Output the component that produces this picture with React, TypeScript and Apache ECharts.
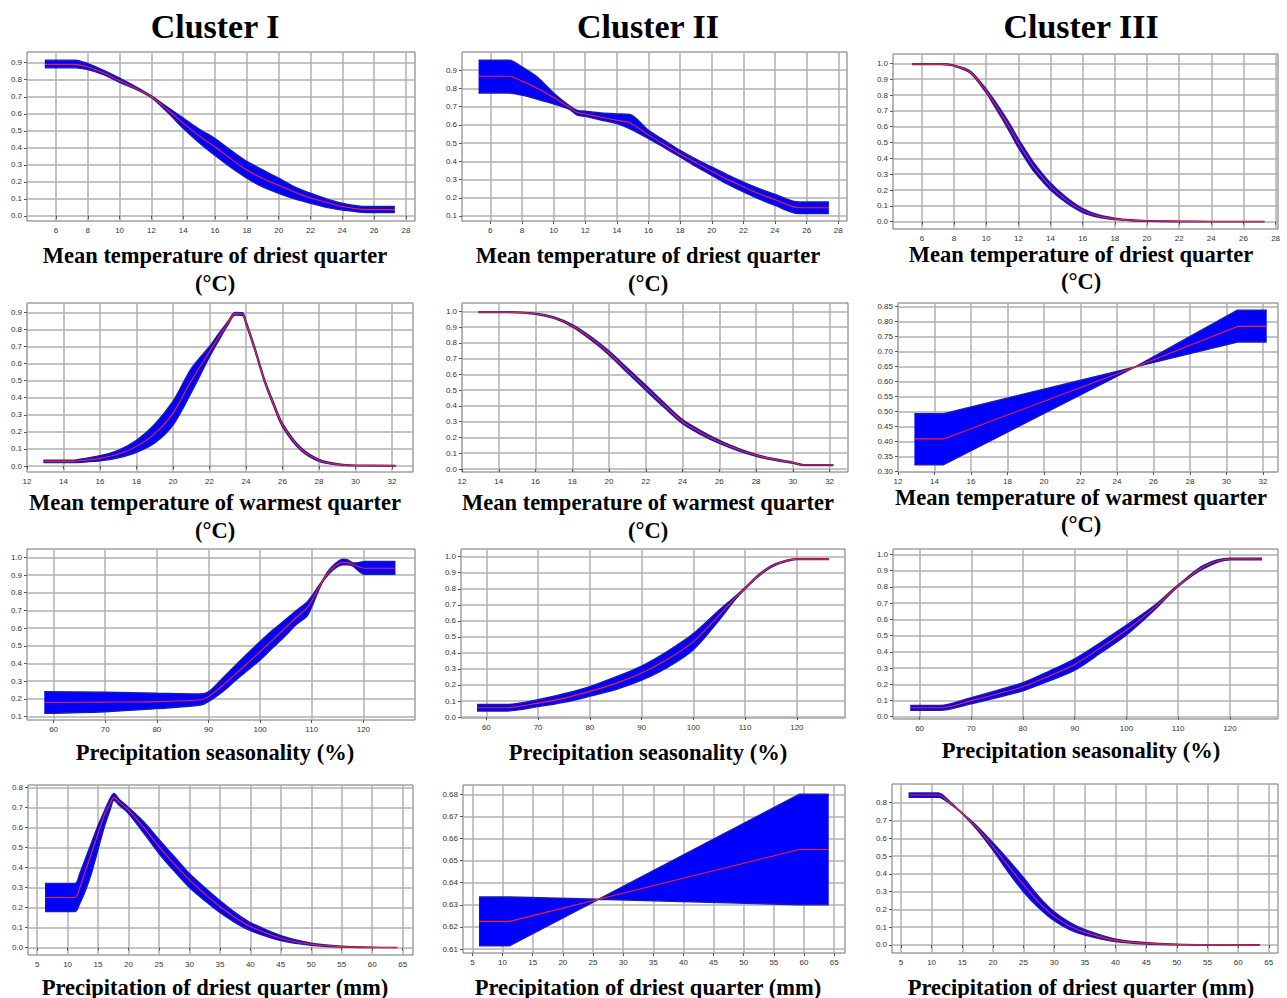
import React, { useEffect, useRef } from "react";
import * as echarts from "echarts";

// ---------- tick labels ----------
const xTicksTemp = [6, 8, 10, 12, 14, 16, 18, 20, 22, 24, 26, 28];
const xTicksWarm = [12, 14, 16, 18, 20, 22, 24, 26, 28, 30, 32];
const xTicksSeas = [60, 70, 80, 90, 100, 110, 120];
const xTicksPrec = [5, 10, 15, 20, 25, 30, 35, 40, 45, 50, 55, 60, 65];
const yTicks0to9 = [0, 0.1, 0.2, 0.3, 0.4, 0.5, 0.6, 0.7, 0.8, 0.9];
const yTicks1to9 = [0.1, 0.2, 0.3, 0.4, 0.5, 0.6, 0.7, 0.8, 0.9];
const yTicks0to10 = [0, 0.1, 0.2, 0.3, 0.4, 0.5, 0.6, 0.7, 0.8, 0.9, 1.0];
const yTicks1to10 = [0.1, 0.2, 0.3, 0.4, 0.5, 0.6, 0.7, 0.8, 0.9, 1.0];
const yTicks0to8 = [0, 0.1, 0.2, 0.3, 0.4, 0.5, 0.6, 0.7, 0.8];
const yTicks30to85 = [0.3, 0.35, 0.4, 0.45, 0.5, 0.55, 0.6, 0.65, 0.7, 0.75, 0.8, 0.85];
const yTicks61to68 = [0.61, 0.62, 0.63, 0.64, 0.65, 0.66, 0.67, 0.68];

// ---------- titles ----------
const clusterTitles = ["Cluster I", "Cluster II", "Cluster III"];
const varDry = ["Mean temperature of driest quarter", "(°C)"];
const varWarm = ["Mean temperature of warmest quarter", "(°C)"];
const varSeas = ["Precipitation seasonality (%)"];
const varPrec = ["Precipitation of driest quarter (mm)"];

// ---------- Panel 1: Cluster I, mean temp driest quarter ----------
const p1X = [5.3, 7.2, 8, 9, 10, 11, 12, 13, 14, 15, 16, 17, 18, 19, 20, 21, 22, 23, 24, 25.5, 27.3];
const p1Mid = [0.89, 0.89, 0.875, 0.84, 0.795, 0.75, 0.7, 0.625, 0.545, 0.47, 0.405, 0.335, 0.27, 0.22, 0.18, 0.14, 0.105, 0.08, 0.055, 0.037, 0.037];
const p1Lo = [0.87, 0.87, 0.86, 0.83, 0.785, 0.745, 0.695, 0.61, 0.515, 0.43, 0.355, 0.285, 0.222, 0.17, 0.133, 0.1, 0.074, 0.05, 0.035, 0.02, 0.02];
const p1Hi = [0.915, 0.915, 0.895, 0.855, 0.81, 0.76, 0.705, 0.64, 0.575, 0.51, 0.455, 0.385, 0.32, 0.27, 0.222, 0.17, 0.133, 0.1, 0.074, 0.055, 0.055];

// ---------- Panel 2: Cluster II, mean temp driest quarter ----------
const p2X = [5.26, 7.2, 8, 9, 10, 11, 11.5, 12, 13, 14, 14.8, 16, 17, 18, 19, 20, 21, 22, 23, 24, 25.5, 27.4];
const p2Hi = [0.955, 0.955, 0.918, 0.86, 0.775, 0.705, 0.68, 0.675, 0.665, 0.66, 0.657, 0.57, 0.515, 0.46, 0.412, 0.369, 0.326, 0.286, 0.25, 0.219, 0.177, 0.177];
const p2Lo = [0.775, 0.775, 0.763, 0.74, 0.715, 0.685, 0.653, 0.647, 0.627, 0.607, 0.58, 0.525, 0.475, 0.424, 0.372, 0.323, 0.275, 0.232, 0.193, 0.158, 0.113, 0.113];
const p2Mid = [0.867, 0.867, 0.84, 0.8, 0.75, 0.695, 0.668, 0.66, 0.642, 0.625, 0.612, 0.545, 0.492, 0.44, 0.392, 0.345, 0.3, 0.26, 0.222, 0.19, 0.145, 0.145];

// ---------- Panel 3: Cluster III, mean temp driest quarter ----------
const p3X = [5.4, 7.2, 8, 9, 10, 10.5, 11, 11.5, 12, 12.5, 13, 14, 15, 16, 17, 18, 19, 20, 22, 24, 27.3];
const p3Mid = [0.995, 0.995, 0.985, 0.945, 0.825, 0.75, 0.67, 0.585, 0.495, 0.415, 0.34, 0.222, 0.135, 0.07, 0.035, 0.018, 0.009, 0.005, 0.002, 0.001, 0.001];
const p3Lo = [0.993, 0.993, 0.982, 0.939, 0.813, 0.732, 0.648, 0.559, 0.467, 0.387, 0.313, 0.2, 0.118, 0.058, 0.027, 0.013, 0.006, 0.003, 0.0, 0.0, 0.0];
const p3Hi = [0.997, 0.997, 0.988, 0.951, 0.837, 0.768, 0.692, 0.611, 0.523, 0.443, 0.367, 0.244, 0.152, 0.082, 0.043, 0.023, 0.012, 0.007, 0.004, 0.002, 0.002];

// ---------- Panel 4: Cluster I, mean temp warmest quarter ----------
const p4X = [12.9, 14.5, 15, 16, 17, 18, 19, 20, 21, 22, 22.5, 23, 23.4, 23.8, 24, 24.5, 25, 25.5, 26, 27, 28, 29, 30, 32.2];
const p4Mid = [0.027, 0.027, 0.032, 0.045, 0.07, 0.115, 0.19, 0.31, 0.5, 0.67, 0.755, 0.835, 0.893, 0.89, 0.84, 0.68, 0.505, 0.365, 0.24, 0.1, 0.033, 0.01, 0.003, 0.002];
const p4Lo = [0.02, 0.02, 0.022, 0.03, 0.048, 0.08, 0.135, 0.24, 0.43, 0.64, 0.735, 0.825, 0.885, 0.882, 0.83, 0.67, 0.495, 0.355, 0.23, 0.092, 0.027, 0.007, 0.001, 0.0];
const p4Hi = [0.034, 0.034, 0.042, 0.06, 0.092, 0.15, 0.245, 0.38, 0.57, 0.7, 0.775, 0.845, 0.9, 0.898, 0.85, 0.69, 0.515, 0.375, 0.25, 0.108, 0.039, 0.013, 0.005, 0.004];

// ---------- Panel 5: Cluster II, mean temp warmest quarter ----------
const p5X = [12.9, 14.5, 16, 17, 18, 19, 20, 21, 22, 23, 24, 25, 26, 27, 28, 29, 30, 30.6, 32.2];
const p5Mid = [0.995, 0.995, 0.985, 0.96, 0.909, 0.83, 0.736, 0.625, 0.515, 0.405, 0.3, 0.23, 0.172, 0.125, 0.087, 0.06, 0.04, 0.025, 0.025];
const p5Lo = [0.992, 0.992, 0.982, 0.955, 0.902, 0.82, 0.724, 0.61, 0.499, 0.39, 0.287, 0.218, 0.162, 0.117, 0.081, 0.055, 0.036, 0.022, 0.022];
const p5Hi = [0.998, 0.998, 0.988, 0.965, 0.916, 0.84, 0.748, 0.64, 0.531, 0.42, 0.313, 0.242, 0.182, 0.133, 0.093, 0.065, 0.044, 0.028, 0.028];

// ---------- Panel 6: Cluster III, mean temp warmest quarter ----------
const p6X = [12.9, 14.5, 25, 30.6, 32.2];
const p6Hi = [0.492, 0.492, 0.648, 0.837, 0.837];
const p6Lo = [0.322, 0.322, 0.648, 0.731, 0.731];
const p6Mid = [0.408, 0.408, 0.648, 0.783, 0.783];

// ---------- Panel 7: Cluster I, precipitation seasonality ----------
const p7X = [58.2, 70, 80, 88.5, 90, 92.5, 95, 97.5, 100, 102.5, 105, 107, 109, 110, 111, 112, 113, 114, 115, 116, 117, 118, 119, 120.3, 126.2];
const p7Mid = [0.18, 0.182, 0.185, 0.195, 0.213, 0.27, 0.335, 0.4, 0.467, 0.535, 0.605, 0.66, 0.712, 0.755, 0.81, 0.862, 0.905, 0.938, 0.96, 0.972, 0.97, 0.96, 0.948, 0.938, 0.938];
const p7Hi = [0.241, 0.238, 0.232, 0.228, 0.24, 0.31, 0.383, 0.455, 0.524, 0.59, 0.65, 0.7, 0.745, 0.78, 0.825, 0.865, 0.915, 0.95, 0.975, 0.99, 0.985, 0.968, 0.97, 0.976, 0.976];
const p7Lo = [0.119, 0.128, 0.145, 0.166, 0.185, 0.235, 0.298, 0.36, 0.42, 0.49, 0.56, 0.62, 0.665, 0.72, 0.79, 0.855, 0.895, 0.925, 0.948, 0.958, 0.958, 0.95, 0.925, 0.904, 0.904];

// ---------- Panel 8: Cluster II, precipitation seasonality ----------
const p8X = [58.2, 64, 70, 75, 80, 85, 90, 95, 100, 105, 108, 110, 112.5, 115, 117.5, 120, 126.2];
const p8Mid = [0.058, 0.058, 0.087, 0.118, 0.16, 0.21, 0.274, 0.36, 0.47, 0.637, 0.74, 0.803, 0.88, 0.938, 0.97, 0.985, 0.985];
const p8Lo = [0.038, 0.038, 0.065, 0.092, 0.13, 0.172, 0.23, 0.31, 0.42, 0.605, 0.73, 0.798, 0.875, 0.933, 0.966, 0.982, 0.982];
const p8Hi = [0.078, 0.078, 0.108, 0.145, 0.19, 0.25, 0.318, 0.41, 0.52, 0.667, 0.75, 0.808, 0.885, 0.943, 0.974, 0.988, 0.988];

// ---------- Panel 9: Cluster III, precipitation seasonality ----------
const p9X = [58.2, 64, 70, 75, 80, 85, 90, 95, 100, 105, 110, 115, 120, 126.2];
const p9Mid = [0.055, 0.055, 0.099, 0.14, 0.185, 0.25, 0.322, 0.425, 0.534, 0.66, 0.807, 0.924, 0.971, 0.971];
const p9Lo = [0.04, 0.04, 0.08, 0.118, 0.16, 0.22, 0.287, 0.393, 0.504, 0.645, 0.802, 0.914, 0.966, 0.966];
const p9Hi = [0.07, 0.07, 0.118, 0.162, 0.21, 0.28, 0.357, 0.457, 0.564, 0.675, 0.812, 0.934, 0.976, 0.976];

// ---------- Panel 10: Cluster I, precipitation of driest quarter ----------
const p10X = [6.3, 11.2, 12, 13, 14, 15, 16, 17, 17.6, 18.5, 20, 22.5, 25, 27.5, 30, 32.5, 35, 37.5, 40, 45, 50, 55, 60, 64.1];
const p10Mid = [0.25, 0.25, 0.3, 0.39, 0.48, 0.57, 0.66, 0.72, 0.75, 0.725, 0.687, 0.6, 0.504, 0.418, 0.338, 0.268, 0.205, 0.15, 0.105, 0.047, 0.017, 0.005, 0.001, 0.0];
const p10Hi = [0.32, 0.32, 0.37, 0.45, 0.53, 0.61, 0.68, 0.745, 0.77, 0.74, 0.7, 0.628, 0.54, 0.455, 0.37, 0.3, 0.235, 0.175, 0.125, 0.06, 0.022, 0.007, 0.002, 0.001];
const p10Lo = [0.18, 0.18, 0.22, 0.29, 0.38, 0.49, 0.6, 0.69, 0.735, 0.71, 0.67, 0.572, 0.47, 0.382, 0.3, 0.235, 0.175, 0.125, 0.085, 0.035, 0.012, 0.003, 0.0, 0.0];

// ---------- Panel 11: Cluster II, precipitation of driest quarter ----------
const p11X = [6.1, 11.2, 25.9, 59.2, 64.1];
const p11Hi = [0.6335, 0.6335, 0.6325, 0.68, 0.68];
const p11Lo = [0.6115, 0.6115, 0.6325, 0.63, 0.63];
const p11Mid = [0.6225, 0.6225, 0.6325, 0.655, 0.655];

// ---------- Panel 12: Cluster III, precipitation of driest quarter ----------
const p12X = [6.25, 11.1, 13, 15, 17.5, 20, 22.5, 25, 27.5, 30, 32.5, 35, 40, 45, 50, 55, 63.5];
const p12Mid = [0.843, 0.843, 0.8, 0.74, 0.655, 0.553, 0.445, 0.338, 0.24, 0.161, 0.107, 0.071, 0.026, 0.009, 0.003, 0.001, 0.0];
const p12Hi = [0.855, 0.855, 0.805, 0.742, 0.665, 0.575, 0.48, 0.378, 0.272, 0.186, 0.127, 0.086, 0.033, 0.013, 0.005, 0.002, 0.001];
const p12Lo = [0.83, 0.83, 0.795, 0.738, 0.645, 0.533, 0.41, 0.298, 0.208, 0.136, 0.087, 0.056, 0.019, 0.005, 0.001, 0.0, 0.0];

type Panel = {
  x: number[]; lo: number[]; mid: number[]; hi: number[];
  xr: [number, number]; yr: [number, number];
  xt: number[]; yt: number[]; yd: number; smooth: number | boolean;
  rect: [number, number, number, number];
};

const panels: Panel[] = [
  { x: p1X, lo: p1Lo, mid: p1Mid, hi: p1Hi, xr: [4.18, 28.57], yr: [-0.03, 0.963], xt: xTicksTemp, yt: yTicks0to9, yd: 1, smooth: 0.3, rect: [27, 52, 415, 221] },
  { x: p2X, lo: p2Lo, mid: p2Mid, hi: p2Hi, xr: [4.21, 28.55], yr: [0.0725, 1.0], xt: xTicksTemp, yt: yTicks1to9, yd: 1, smooth: 0.3, rect: [462, 52, 847, 221] },
  { x: p3X, lo: p3Lo, mid: p3Mid, hi: p3Hi, xr: [4.2, 28.15], yr: [-0.046, 1.059], xt: xTicksTemp, yt: yTicks0to10, yd: 1, smooth: 0.3, rect: [893, 54, 1278, 229] },
  { x: p4X, lo: p4Lo, mid: p4Mid, hi: p4Hi, xr: [12, 33.15], yr: [-0.035, 0.955], xt: xTicksWarm, yt: yTicks0to9, yd: 1, smooth: 0.3, rect: [27, 303, 413, 472] },
  { x: p5X, lo: p5Lo, mid: p5Mid, hi: p5Hi, xr: [12, 33], yr: [-0.019, 1.053], xt: xTicksWarm, yt: yTicks0to10, yd: 1, smooth: 0.3, rect: [462, 303, 848, 472] },
  { x: p6X, lo: p6Lo, mid: p6Mid, hi: p6Hi, xr: [12, 32.82], yr: [0.2977, 0.861], xt: xTicksWarm, yt: yTicks30to85, yd: 2, smooth: false, rect: [898, 303, 1278, 472] },
  { x: p7X, lo: p7Lo, mid: p7Mid, hi: p7Hi, xr: [54.85, 130], yr: [0.081, 1.047], xt: xTicksSeas, yt: yTicks1to10, yd: 1, smooth: 0.3, rect: [27, 549, 415, 720] },
  { x: p8X, lo: p8Lo, mid: p8Mid, hi: p8Hi, xr: [55.1, 129.3], yr: [-0.006, 1.048], xt: xTicksSeas, yt: yTicks0to10, yd: 1, smooth: 0.3, rect: [461, 549, 845, 718] },
  { x: p9X, lo: p9Lo, mid: p9Mid, hi: p9Hi, xr: [54.86, 129.3], yr: [-0.014, 1.033], xt: xTicksSeas, yt: yTicks0to10, yd: 1, smooth: 0.3, rect: [893, 549, 1278, 719] },
  { x: p10X, lo: p10Lo, mid: p10Mid, hi: p10Hi, xr: [3.5, 66.7], yr: [-0.037, 0.812], xt: xTicksPrec, yt: yTicks0to8, yd: 1, smooth: 0.3, rect: [28, 785, 413, 955] },
  { x: p11X, lo: p11Lo, mid: p11Mid, hi: p11Hi, xr: [3.44, 66.8], yr: [0.6082, 0.6842], xt: xTicksPrec, yt: yTicks61to68, yd: 2, smooth: false, rect: [463, 785, 845, 953] },
  { x: p12X, lo: p12Lo, mid: p12Mid, hi: p12Hi, xr: [3.54, 66.5], yr: [-0.045, 0.905], xt: xTicksPrec, yt: yTicks0to8, yd: 1, smooth: 0.3, rect: [892, 784, 1278, 953] },
];

const colCenters = [215, 648, 1081];

function buildOption() {
  const grid: any[] = [];
  const xAxis: any[] = [];
  const yAxis: any[] = [];
  const series: any[] = [];
  panels.forEach((p, i) => {
    const [l, t, r, b] = p.rect;
    grid.push({
      left: l, top: t, width: r - l, height: b - t,
      show: true, borderColor: "#707070", borderWidth: 1, backgroundColor: "#ffffff",
      containLabel: false, outerBoundsMode: "none",
    });
    xAxis.push({
      type: "value", gridIndex: i, min: p.xr[0], max: p.xr[1],
      axisLine: { show: false },
      axisTick: { show: true, length: 3, customValues: p.xt, lineStyle: { color: "#555" } },
      axisLabel: { customValues: p.xt, fontSize: 8, color: "#333", margin: 5, fontFamily: "Liberation Sans", formatter: (v: number) => String(v) },
      splitLine: { show: true, lineStyle: { color: "#b0b0b0", width: 1.5 } },
    });
    yAxis.push({
      type: "value", gridIndex: i, min: p.yr[0], max: p.yr[1],
      axisLine: { show: false },
      axisTick: { show: true, length: 3, customValues: p.yt, lineStyle: { color: "#555" } },
      axisLabel: { customValues: p.yt, fontSize: 8, color: "#333", margin: 5, fontFamily: "Liberation Sans", formatter: (v: number) => v.toFixed(p.yd) },
      splitLine: { show: true, lineStyle: { color: "#b0b0b0", width: 1.5 } },
    });
    // Columns are [y, x] so that the stacked dimension is y (stack by index).
    const loData = p.x.map((x, k) => [p.lo[k], x]);
    const bandData = p.x.map((x, k) => [p.hi[k] - p.lo[k], x]);
    const midData = p.x.map((x, k) => [x, p.mid[k]]);
    series.push({
      type: "line", xAxisIndex: i, yAxisIndex: i, data: loData, stack: "band" + i,
      encode: { x: 1, y: 0 },
      symbol: "none", smooth: p.smooth, silent: true,
      lineStyle: { color: "#1c1ca8", width: 1.4 }, z: 2,
    });
    series.push({
      type: "line", xAxisIndex: i, yAxisIndex: i, data: bandData, stack: "band" + i,
      encode: { x: 1, y: 0 },
      symbol: "none", smooth: p.smooth, silent: true,
      lineStyle: { color: "#1c1ca8", width: 1.4 },
      areaStyle: { color: "#0000ff", opacity: 1 }, z: 2,
    });
    series.push({
      type: "line", xAxisIndex: i, yAxisIndex: i, data: midData,
      symbol: "none", smooth: p.smooth, silent: true,
      lineStyle: { color: "#ff2020", width: 1.1 }, z: 3,
    });
  });

  const txt = (s: string, x: number, y: number, size: number) => ({
    type: "text", x, y, silent: true,
    style: {
      text: s, fill: "#000", font: `bold ${size}px "Liberation Serif", "Times New Roman", serif`,
      textAlign: "center", textVerticalAlign: "middle", align: "center", verticalAlign: "middle",
    },
  });

  const graphic: any[] = [];
  clusterTitles.forEach((s, c) => graphic.push(txt(s, colCenters[c], 26, 34)));
  const rowNames = [
    { lines: varDry, ys: [[255, 283], [255, 283], [254, 281]] },
    { lines: varWarm, ys: [[502, 530], [502, 530], [497, 524]] },
    { lines: varSeas, ys: [[752], [752], [750]] },
    { lines: varPrec, ys: [[987], [987], [987]] },
  ];
  rowNames.forEach((rw) => {
    [0, 1, 2].forEach((c) => {
      rw.lines.forEach((ln, li) => graphic.push(txt(ln, colCenters[c], rw.ys[c][li], 22.5)));
    });
  });

  return { animation: false, backgroundColor: "#ffffff", grid, xAxis, yAxis, series, graphic };
}

export default function App() {
  const ref = useRef<HTMLDivElement>(null);
  useEffect(() => {
    if (!ref.current) return;
    const chart = echarts.init(ref.current, undefined, { renderer: "svg" });
    chart.setOption(buildOption() as any);
    return () => chart.dispose();
  }, []);
  return (
    <div
      ref={ref}
      style={{ position: "fixed", left: 0, top: 0, width: 1287, height: 998, background: "#fff" }}
    />
  );
}
